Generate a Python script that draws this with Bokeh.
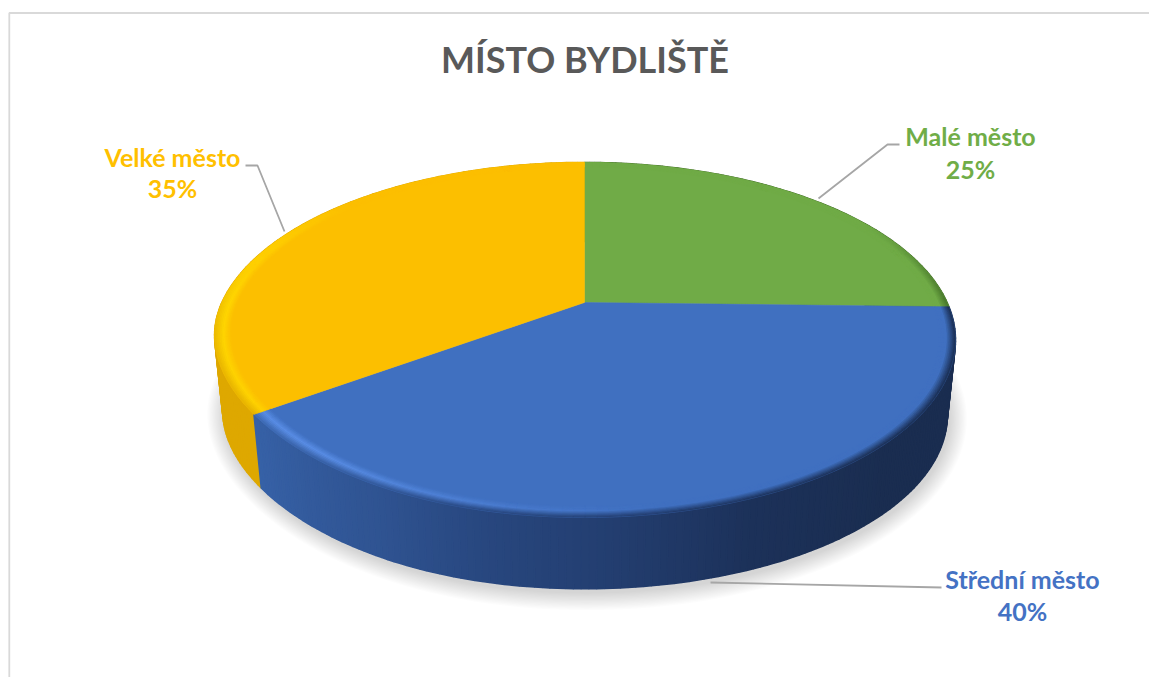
import numpy as np
from bokeh.plotting import figure
from bokeh.models import Range1d
from bokeh.core.properties import value
from bokeh.embed import file_html
from bokeh.resources import INLINE

# ---- data ----
title = "MÍSTO BYDLIŠTĚ"
categories = ["Malé město", "Střední město", "Velké město"]
shares = [25.4, 39.77, 34.83]

# ---- styles ----
FACE = ["#70AB47", "#4070C0", "#FCBF00"]
HILITE = ["#70AB47", "#5C90E8", "#FFD800"]
LABEL = ["#70AD47", "#4472C4", "#FFC000"]
FONT = "Lato"
CX, APEX_Y = 584.0, 302.0
K, A, B = 0.211, 169.6, 362.6
RIM_IN = 0.957
SIDE_SCALE, SIDE_DROP = 0.978, 76.0
WARP = 7.0

SIDE_STOPS = [
    [(0, "#3F6B25"), (360, "#3F6B25")],
    [(90, "#1A2D50"), (135, "#1A2D50"), (158, "#1C3159"), (177, "#233E70"),
     (193, "#28477F"), (208, "#2F5391"), (236, "#3762A8")],
    [(234, "#DEA800"), (360, "#DEA800")],
]
HI_STOPS = [
    [(0, 0), (360, 0)],
    [(90, 0), (170, 0), (200, .6), (220, 1), (236, 1)],
    [(234, .8), (270, 1), (295, .5), (312, 0), (360, 0)],
]
DARK_STOPS = [
    [(0, 0), (60, 0), (92, .9), (360, .9)],
    [(90, 1), (200, 1), (236, .8)],
    [(234, .8), (262, .6), (285, 0), (360, 0)],
]


def rgb(h):
    return np.array([int(h[i:i + 2], 16) for i in (1, 3, 5)], float)


def hexc(c):
    return "#%02x%02x%02x" % tuple(int(round(v)) for v in np.clip(c, 0, 255))


def proj(theta, r=1.0):
    theta = np.asarray(theta, float)
    t = np.radians(theta)
    u, v = r * np.sin(t), r * np.cos(t)
    d = 1 + K * v
    bump = np.where((theta > 180) & (theta < 270), np.sin(2 * (t - np.pi)) ** 2, 0.0)
    return CX + B * u / d + WARP * r * bump, APEX_Y - A * v / d


def bottom(theta):
    x, y = proj(theta)
    return CX + (x - CX) * SIDE_SCALE, APEX_Y + (y - APEX_Y) * SIDE_SCALE + SIDE_DROP


def stop_num(stops, th):
    return float(np.interp(th, [s[0] for s in stops], [s[1] for s in stops]))


def stop_col(stops, th):
    xs = [s[0] for s in stops]
    cs = np.array([rgb(s[1]) for s in stops])
    return np.array([np.interp(th, xs, cs[:, i]) for i in range(3)])


p = figure(width=1149, height=677, output_backend="svg", toolbar_location=None,
           x_range=Range1d(0, 1149), y_range=Range1d(677, 0),
           min_border=0, x_axis_type="linear")
p.axis.visible = False
p.grid.visible = False
p.outline_line_color = None
p.background_fill_color = "white"

# chart frame (top and left only are in view)
p.line([8.8, 8.8, 1149], [677, 12.5, 12.5], line_color="#D9D9D9", line_width=1.8)

# soft shadow
ring = np.linspace(0, 360, 181)
for e in np.linspace(18, 1, 14):
    bx, by = bottom(ring)
    mx, my = CX, (by.max() + by.min()) / 2
    sx = (bx - mx) * (1 + e / 370.0) + mx + 2
    sy = (by - my) * (1 + e / 178.0) + my + 4
    p.patch(sx, sy, fill_color="black", fill_alpha=0.011, line_color=None)

# slice limits from the values
ends = np.cumsum(shares) / np.sum(shares) * 360.0
starts = np.concatenate([[0.0], ends[:-1]])
STEP = 1.0

# side walls: back slices first, the front slice last
for i in [2, 0, 1]:
    ths = np.arange(starts[i], ends[i] + 1e-6, STEP)
    ths[-1] = ends[i]
    xs, ys, cols = [], [], []
    for a, b in zip(ths[:-1], ths[1:]):
        x0, y0 = proj(a); x1, y1 = proj(b)
        x2, y2 = bottom(b); x3, y3 = bottom(a)
        xs.append([x0, x1, x2, x3]); ys.append([y0, y1, y2, y3])
        cols.append(hexc(stop_col(SIDE_STOPS[i], (a + b) / 2)))
    p.patches(xs, ys, fill_color=cols, line_color=cols, line_width=1.6)

# top faces
for i in range(3):
    ths = np.linspace(starts[i], ends[i], 120)
    fx, fy = proj(ths)
    p.patch(np.r_[CX, fx], np.r_[APEX_Y, fy], fill_color=FACE[i], line_color=FACE[i], line_width=0.5)

# bevel band around the rim
Nr = 10
rs = np.linspace(RIM_IN, 1.0, Nr + 1)
for i in range(3):
    face, hi = rgb(FACE[i]), rgb(HILITE[i])
    ths = np.arange(starts[i], ends[i] + 1e-6, 1.5)
    ths[-1] = ends[i]
    xs, ys, cols = [], [], []
    for a, b in zip(ths[:-1], ths[1:]):
        m = (a + b) / 2
        h = stop_num(HI_STOPS[i], m)
        w = stop_num(DARK_STOPS[i], m)
        side = stop_col(SIDE_STOPS[i], m)
        for j in range(Nr):
            t = (j + 0.5) / Nr
            c = face + (hi - face) * h * min(t / 0.5, 1.0)
            s = float(np.clip((t - 0.45) / 0.55, 0, 1))
            c = c + (side - c) * w * s
            x0, y0 = proj(a, rs[j]); x1, y1 = proj(b, rs[j])
            x2, y2 = proj(b, rs[j + 1]); x3, y3 = proj(a, rs[j + 1])
            xs.append([x0, x1, x2, x3]); ys.append([y0, y1, y2, y3])
            cols.append(hexc(c))
    p.patches(xs, ys, fill_color=cols, line_color=cols, line_width=0.5)

# leader lines
LEADERS = [
    ([899, 887, 818], [144, 144, 198]),
    ([941, 710], [587, 582]),
    ([245, 257, 284], [165, 165, 231]),
]
for lx, ly in LEADERS:
    p.line(lx, ly, line_color="#A6A6A6", line_width=1.8)

# texts
p.text([584.5], [58], text=[title], text_font=value(FONT), text_font_style="bold",
       text_font_size="36px", text_color="#595959", text_align="center", text_baseline="middle")
LABEL_POS = [(970, 135, 168), (1022, 578, 610), (172, 156, 187)]
for i, (lx, ly1, ly2) in enumerate(LABEL_POS):
    p.text([lx, lx], [ly1, ly2], text=[categories[i], f"{round(shares[i])}%"], text_font=value(FONT),
           text_font_style="bold", text_font_size="25px", text_color=LABEL[i],
           text_align="center", text_baseline="middle")

open("out.html", "w").write(file_html(p, INLINE))
